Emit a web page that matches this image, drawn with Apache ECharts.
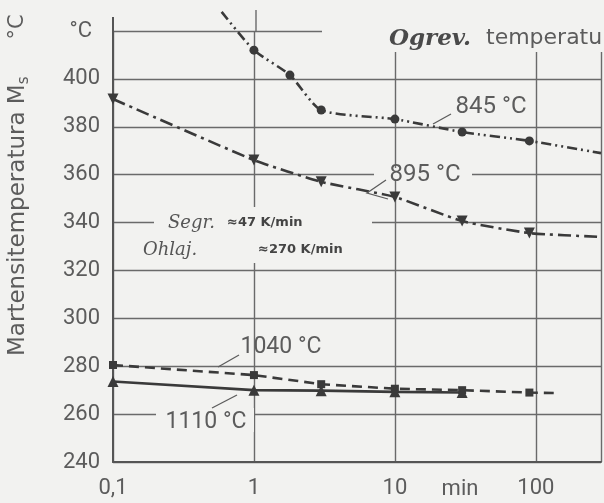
<!DOCTYPE html>
<html><head><meta charset="utf-8">
<script src="https://cdn.jsdelivr.net/npm/echarts@6/dist/echarts.min.js"></script>
<style>html,body{margin:0;padding:0;background:#f2f2f0;overflow:hidden}#c{width:604px;height:503px}</style>
</head><body><div id="c"></div>
<script>
// ---- data ----
const xMin = 0.1, xMax = 290;
const yMin = 240, yMax = 420, yStep = 20;
const xTickLabels = {0.1: '0,1', 1: '1', 10: '10', 100: '100'};
// 845 °C  (circles, dash-dot-dot)
const x845 = [1, 1.8, 3, 10, 30, 90];
const y845 = [412, 401.6, 387, 383.2, 377.8, 374.1];
const lead845 = [0.59, 428];
const tail845 = [290, 369];
// 895 °C  (down triangles, dash-dot)
const x895 = [0.1, 1, 3, 10, 30, 90];
const y895 = [391.6, 366.1, 357, 350.7, 340.6, 335.6];
const tail895 = [290, 334];
// 1040 °C (squares, dashed)
const x1040 = [0.1, 1, 3, 10, 30, 90];
const y1040 = [280.5, 276.3, 272.5, 270.6, 270, 269];
const tail1040 = [134, 268.8];
// 1110 °C (up triangles, solid)
const x1110 = [0.1, 1, 3, 10, 30];
const y1110 = [273.6, 270, 269.8, 269.3, 269];

const INK = '#3a3a3a', TXT = '#5c5c5c', GRID = '#6a6a6a', BG = '#f2f2f0';
const FONT = 'Roboto, "DejaVu Sans", sans-serif';
const WIDE = '"DejaVu Sans", sans-serif';

function pts(xs, ys) { return xs.map((x, i) => [x, ys[i]]); }
function bare(p) { return {value: p, symbol: 'none'}; }

const chart = echarts.init(document.getElementById('c'), null, {renderer: 'canvas'});

function lineSeries(name, data, symbol, size, rotate, dash, smooth) {
  return {
    name, type: 'line', data, clip: false,
    symbol, symbolSize: size, symbolRotate: rotate, showAllSymbol: true,
    smooth,
    itemStyle: {color: INK},
    lineStyle: {color: INK, width: 2.6, type: dash},
    z: 5, animation: false
  };
}

const option = {
  backgroundColor: BG,
  animation: false,
  grid: {left: 113, right: 0, top: 31, bottom: 41},
  xAxis: {
    type: 'log', logBase: 10, min: xMin, max: xMax,
    axisLine: {show: true, lineStyle: {color: '#555', width: 2}},
    axisTick: {show: false}, minorTick: {show: false},
    splitLine: {show: true, lineStyle: {color: GRID, width: 1.4}},
    axisLabel: {
      margin: 15, color: TXT, fontFamily: FONT, fontSize: 22,
      formatter: v => xTickLabels[+v.toPrecision(3)] ?? ''
    }
  },
  yAxis: {
    type: 'value', min: yMin, max: yMax, interval: yStep,
    axisLine: {show: true, lineStyle: {color: '#555', width: 2}},
    axisTick: {show: false},
    splitLine: {show: true, lineStyle: {color: GRID, width: 1.4}},
    axisLabel: {
      margin: 13, color: TXT, fontFamily: FONT, fontSize: 22,
      formatter: v => v === yMax ? '{c|°C}' : String(v),
      rich: {c: {color: TXT, fontFamily: FONT, fontSize: 22, padding: [0, 8, 0, 0]}}
    }
  },
  series: [
    lineSeries('845', [bare(lead845), ...pts(x845, y845), bare(tail845)], 'circle', 9, 0, [10, 4, 2, 4, 2, 4], 0.22),
    lineSeries('895', [...pts(x895, y895), bare(tail895)], 'triangle', 11, 180, [13, 5, 3, 5], 0.15),
    lineSeries('1040', [...pts(x1040, y1040), bare(tail1040)], 'rect', 8, 0, [10, 6], 0),
    lineSeries('1110', pts(x1110, y1110), 'triangle', 11, 0, 'solid', 0)
  ],
  graphic: [
    // gaps in grid lines behind annotations
    {type: 'rect', shape: {x: 322, y: 24, width: 282, height: 28}, style: {fill: BG}, z: 50},
    {type: 'rect', shape: {x: 154, y: 207, width: 218, height: 56}, style: {fill: BG}, z: 50},
    {type: 'rect', shape: {x: 374, y: 168, width: 98, height: 12}, style: {fill: BG}, z: 50},
    {type: 'rect', shape: {x: 156, y: 408, width: 98, height: 24}, style: {fill: BG}, z: 50},
    // axis / grid extensions at top
    {type: 'line', shape: {x1: 113, y1: 17, x2: 113, y2: 31}, style: {stroke: '#555', lineWidth: 2}, z: 51},
    {type: 'line', shape: {x1: 256, y1: 10, x2: 256, y2: 31}, style: {stroke: GRID, lineWidth: 1.4}, z: 51},
    // y axis title
    {type: 'text', x: 18, y: 356, rotation: Math.PI / 2, z: 60,
      style: {text: 'Martensitemperatura M{s|s}', fill: TXT, font: '23px ' + WIDE,
        textAlign: 'left', textVerticalAlign: 'middle',
        rich: {s: {fontSize: 15, fill: TXT, fontFamily: WIDE, padding: [13, 0, 0, 0]}}}},
    {type: 'text', x: 18, y: 27, rotation: Math.PI / 2, z: 60,
      style: {text: '°C', fill: TXT, font: '21px ' + WIDE, textAlign: 'center', textVerticalAlign: 'middle'}},
    // x unit
    {type: 'text', x: 460, y: 489, z: 60,
      style: {text: 'min', fill: TXT, font: '22px ' + FONT, textAlign: 'center', textVerticalAlign: 'middle'}},
    // header
    {type: 'text', x: 389, y: 39, z: 60,
      style: {text: 'Ogrev.', fill: '#4a4a4a', font: 'italic bold 23px "DejaVu Serif", serif', textAlign: 'left', textVerticalAlign: 'middle'}},
    {type: 'text', x: 486, y: 38, z: 60,
      style: {text: 'temperatura', fill: TXT, font: '22px ' + WIDE, textAlign: 'left', textVerticalAlign: 'middle'}},
    // curve labels
    {type: 'text', x: 491, y: 107, z: 60,
      style: {text: '845 °C', fill: TXT, font: '24px ' + FONT, textAlign: 'center', textVerticalAlign: 'middle'}},
    {type: 'line', shape: {x1: 433, y1: 124, x2: 451, y2: 114}, style: {stroke: TXT, lineWidth: 1.3}, z: 60},
    {type: 'text', x: 425, y: 175, z: 60,
      style: {text: '895 °C', fill: TXT, font: '24px ' + FONT, textAlign: 'center', textVerticalAlign: 'middle'}},
    {type: 'polyline', shape: {points: [[386, 180], [367, 193], [388, 199]]}, style: {stroke: TXT, lineWidth: 1.3, fill: null}, z: 60},
    {type: 'text', x: 281, y: 347, z: 60,
      style: {text: '1040 °C', fill: TXT, font: '23px ' + FONT, textAlign: 'center', textVerticalAlign: 'middle'}},
    {type: 'line', shape: {x1: 218, y1: 367, x2: 239, y2: 355}, style: {stroke: TXT, lineWidth: 1.3}, z: 60},
    {type: 'text', x: 206, y: 422, z: 60,
      style: {text: '1110 °C', fill: TXT, font: '23px ' + FONT, textAlign: 'center', textVerticalAlign: 'middle'}},
    {type: 'line', shape: {x1: 212, y1: 408, x2: 237, y2: 395}, style: {stroke: TXT, lineWidth: 1.3}, z: 60},
    // handwritten cooling notes
    {type: 'text', x: 168, y: 223, z: 60,
      style: {text: 'Segr.', fill: '#555', font: 'italic 18px "DejaVu Serif", serif', textAlign: 'left', textVerticalAlign: 'middle'}},
    {type: 'text', x: 227, y: 223, z: 60,
      style: {text: '≈47 K/min', fill: '#444', font: 'bold 13px "DejaVu Sans", sans-serif', textAlign: 'left', textVerticalAlign: 'middle'}},
    {type: 'text', x: 143, y: 250, z: 60,
      style: {text: 'Ohlaj.', fill: '#555', font: 'italic 18px "DejaVu Serif", serif', textAlign: 'left', textVerticalAlign: 'middle'}},
    {type: 'text', x: 258, y: 250, z: 60,
      style: {text: '≈270 K/min', fill: '#444', font: 'bold 13px "DejaVu Sans", sans-serif', textAlign: 'left', textVerticalAlign: 'middle'}}
  ]
};
chart.setOption(option);
</script>
</body></html>
